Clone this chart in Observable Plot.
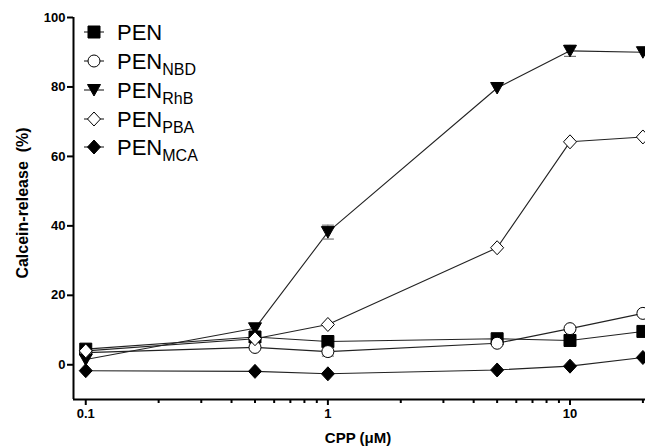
<!DOCTYPE html>
<html>
<head>
<meta charset="utf-8">
<script src="https://cdn.jsdelivr.net/npm/d3@7"></script>
<script src="https://cdn.jsdelivr.net/npm/@observablehq/plot@0.6"></script>
<style>
  html, body { margin: 0; padding: 0; background: #fff; }
  #chart { position: relative; width: 645px; height: 447px; overflow: hidden; }
</style>
</head>
<body>
<div id="chart"></div>
<script>
// ---- data ----
const concentrations = [0.1, 0.5, 1, 5, 10, 20];
const seriesNames = ["PEN", "PEN_NBD", "PEN_RhB", "PEN_PBA", "PEN_MCA"];
const legendBase = ["PEN", "PEN", "PEN", "PEN", "PEN"];
const legendSub = ["", "NBD", "RhB", "PBA", "MCA"];
const penValues = [4.5, 8.0, 6.7, 7.5, 7.0, 9.6];
const nbdValues = [3.5, 5.0, 3.8, 6.2, 10.4, 14.8];
const rhbValues = [1.5, 10.5, 38.2, 79.7, 90.4, 90.0];
const pbaValues = [4.0, 7.5, 11.6, 33.7, 64.2, 65.6];
const mcaValues = [-1.7, -1.9, -2.6, -1.5, -0.4, 2.1];
const penErrors = [0, 0, 0, 0, 0, 0];
const nbdErrors = [0, 0, 1.3, 0, 0, 0];
const rhbErrors = [0, 0, 2.0, 0, 1.6, 0];
const pbaErrors = [0, 0, 0, 0, 0, 0];
const mcaErrors = [0, 0, 0, 0, 0, 0];
const yTicks = [0, 20, 40, 60, 80, 100];
const xMajorTicks = [0.1, 1, 10];
const xMinorTicks = [0.2, 0.3, 0.4, 0.5, 0.6, 0.7, 0.8, 0.9, 2, 3, 4, 5, 6, 7, 8, 9, 20];

// ---- symbols ----
const symSquare = {draw(ctx) { ctx.rect(-6, -6, 12, 12); }};
const symCircle = {draw(ctx) { ctx.moveTo(6, 0); ctx.arc(0, 0, 6, 0, 2 * Math.PI); }};
const symTriDown = {draw(ctx) { ctx.moveTo(-6.5, -5.5); ctx.lineTo(6.5, -5.5); ctx.lineTo(0, 6); ctx.closePath(); }};
const symDiamond = {draw(ctx) { ctx.moveTo(0, -7); ctx.lineTo(6.5, 0); ctx.lineTo(0, 7); ctx.lineTo(-6.5, 0); ctx.closePath(); }};
const symCap = {draw(ctx) { ctx.moveTo(-6, 0); ctx.lineTo(6, 0); }};

const styles = [
  {symbol: symSquare, fill: "black"},
  {symbol: symCircle, fill: "white"},
  {symbol: symTriDown, fill: "black"},
  {symbol: symDiamond, fill: "white"},
  {symbol: symDiamond, fill: "black"}
];
const allValues = [penValues, nbdValues, rhbValues, pbaValues, mcaValues];
const allErrors = [penErrors, nbdErrors, rhbErrors, pbaErrors, mcaErrors];

const rows = [];
seriesNames.forEach((s, i) => {
  concentrations.forEach((c, j) => {
    rows.push({series: s, idx: i, x: c, y: allValues[i][j], e: allErrors[i][j]});
  });
});
const errRows = rows.filter(d => d.e > 0);

const font = "'Liberation Sans', Arial, Helvetica, sans-serif";
const xDomain = [0.089, 20.5];

const marks = [
  Plot.ruleY([-10], {stroke: "black", strokeWidth: 2}),
  Plot.ruleX([xDomain[0]], {stroke: "black", strokeWidth: 2}),
  Plot.axisY({ticks: yTicks, tickSize: 6, tickPadding: 2, fontSize: 13, fontWeight: "bold", label: null, strokeWidth: 2}),
  Plot.axisX({ticks: xMajorTicks, tickSize: 6, tickPadding: 3, fontSize: 13, fontWeight: "bold", label: null, strokeWidth: 2, tickFormat: d => String(d)}),
  Plot.axisX({ticks: xMinorTicks, tickSize: 4, text: null, label: null, strokeWidth: 2}),
  Plot.line(rows, {x: "x", y: "y", z: "series", stroke: "#222", strokeWidth: 1.1})
];
// error bars
marks.push(Plot.ruleX(errRows, {x: "x", y1: d => d.y - d.e, y2: d => d.y + d.e, stroke: "#777", strokeWidth: 1}));
marks.push(Plot.dot(errRows, {x: "x", y: d => d.y - d.e, symbol: () => symCap, stroke: "#777", strokeWidth: 1.2}));
marks.push(Plot.dot(errRows, {x: "x", y: d => d.y + d.e, symbol: () => symCap, stroke: "#777", strokeWidth: 1.2}));
// markers, drawn per series
seriesNames.forEach((s, i) => {
  marks.push(Plot.dot(rows.filter(d => d.idx === i), {
    x: "x", y: "y", symbol: () => styles[i].symbol,
    fill: styles[i].fill, stroke: "black", strokeWidth: 1
  }));
});

const plot = Plot.plot({
  width: 645,
  height: 447,
  marginLeft: 73,
  marginRight: 0,
  marginTop: 17,
  marginBottom: 48,
  style: {fontFamily: font, background: "white", overflow: "visible"},
  x: {type: "log", domain: xDomain},
  y: {domain: [-10, 100]},
  symbol: {type: "identity"},
  marks
});
document.getElementById("chart").appendChild(plot);

// axis titles and legend
const svg = d3.select(plot);
svg.append("text")
  .attr("transform", "translate(28,203) rotate(-90)")
  .attr("text-anchor", "middle")
  .attr("font-family", font).attr("font-weight", "bold").attr("font-size", 16)
  .attr("fill", "black")
  .text("Calcein-release\u00a0\u00a0(%)");
svg.append("text")
  .attr("x", 358).attr("y", 443)
  .attr("text-anchor", "middle")
  .attr("font-family", font).attr("font-weight", "bold").attr("font-size", 15)
  .attr("fill", "black")
  .text("CPP (\u03bcM)");

const legendY = [32, 61, 90, 119, 147];
const lg = svg.append("g");
seriesNames.forEach((s, i) => {
  const g = lg.append("g").attr("transform", `translate(94,${legendY[i]})`);
  g.append("line").attr("x1", -10).attr("x2", 10).attr("stroke", "#222").attr("stroke-width", 1.1);
  g.append("path").attr("d", d3.symbol(styles[i].symbol)())
    .attr("fill", styles[i].fill).attr("stroke", "black").attr("stroke-width", 1);
  const t = g.append("text").attr("x", 23).attr("y", 7.5)
    .attr("text-anchor", "start")
    .attr("font-family", font).attr("font-size", 22).attr("fill", "black");
  t.append("tspan").text(legendBase[i]);
  if (legendSub[i]) t.append("tspan").attr("dy", 6).attr("font-size", 16).text(legendSub[i]);
});
</script>
</body>
</html>
